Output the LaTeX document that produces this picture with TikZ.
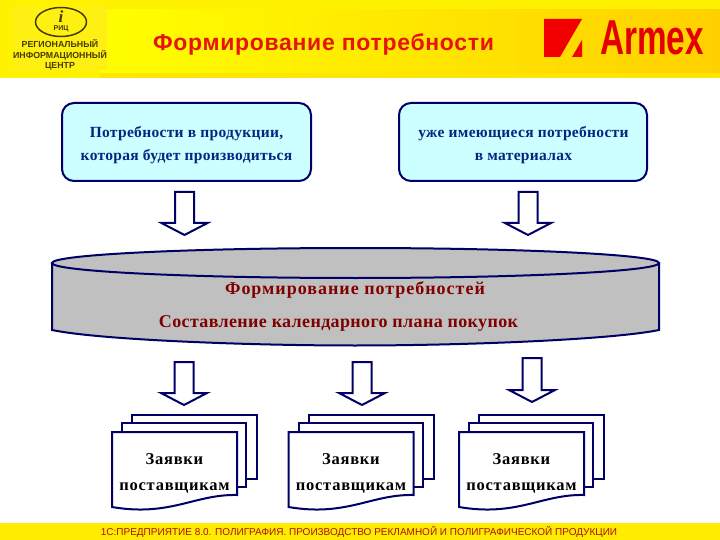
\documentclass[tikz,border=0pt]{standalone}
\usepackage{fontspec}
\setmainfont{Liberation Serif}
\setsansfont{Liberation Sans}
\usetikzlibrary{shapes.geometric}
\definecolor{navyline}{RGB}{0,0,102}
\definecolor{boxfill}{RGB}{204,255,255}
\definecolor{boxtext}{RGB}{0,40,130}
\definecolor{darkred}{RGB}{128,0,0}
\definecolor{cylfill}{RGB}{192,192,192}
\definecolor{titlered}{RGB}{230,20,10}
\definecolor{logoink}{RGB}{70,60,0}
\definecolor{logoback}{RGB}{255,240,20}
\definecolor{hdrright}{RGB}{255,208,0}
\tikzset{
  x=1pt,y=-1pt,
  needbox/.style={draw=navyline,line width=2pt,fill=boxfill,rounded corners=12pt},
  needtext/.style={font=\fontsize{15.5}{23}\selectfont\bfseries\addfontfeature{LetterSpace=2},text=boxtext,align=center,inner sep=0pt},
  blockarrow/.style={draw=navyline,line width=2pt,fill=white,line join=miter},
  cyl/.style={draw=navyline,line width=2pt,fill=cylfill},
  cyltext/.style={font=\fontsize{18}{20}\selectfont\bfseries\addfontfeature{LetterSpace=2},text=darkred,inner sep=0pt},
  sheet/.style={draw=navyline,line width=2pt,fill=white},
  doctext/.style={font=\fontsize{16.5}{26}\selectfont\bfseries\addfontfeature{LetterSpace=4.5},text=black,align=center,inner sep=0pt},
  logotext/.style={font=\sffamily\bfseries\fontsize{8.8}{10.6}\selectfont,text=logoink,align=center,inner sep=0pt},
}
\newcommand{\downblock}[3]{% centre x, top y, tip y
  \path[blockarrow] (#1-9.5,#2) -- (#1+9.5,#2) -- (#1+9.5,#3-12) -- (#1+23,#3-12) -- (#1,#3) -- (#1-23,#3-12) -- (#1-9.5,#3-12) -- (#1-9.5,#2) -- cycle;
}
\newcommand{\sheetstack}[2]{% x offset, node name
  \path[sheet] (#1+132,415) -- (#1+257,415) -- (#1+257,479) -- (#1+132,479) -- cycle;
  \path[sheet] (#1+122,423) -- (#1+246,423) -- (#1+246,487) -- (#1+122,487) -- cycle;
  \path[sheet] (#1+112,432) -- (#1+237,432) -- (#1+237,495) .. controls (#1+195,494) and (#1+170,517) .. (#1+112,507) -- cycle;
  \node[doctext] (#2) at (#1+174.5,473) {Заявки\\поставщикам};
}
\begin{document}
\begin{tikzpicture}
\useasboundingbox (0,0) rectangle (720,540);
\fill[white] (0,0) rectangle (720,540);
% header
\fill[yellow] (0,0) rectangle (720,78);
\shade[left color=yellow,right color=hdrright] (100,10) rectangle (720,73);
\fill[yellow!70!hdrright] (100,73) rectangle (720,78);
\fill[logoback] (13,6) rectangle (107,70);
% logo
\node[draw=logoink,line width=1.5pt,ellipse,minimum width=51pt,minimum height=29pt,inner sep=0pt] (logoring) at (61,22) {};
\node[font=\rmfamily\bfseries\itshape\fontsize{17}{17}\selectfont,text=logoink,inner sep=0pt] (logoi) at (61,17) {i};
\node[font=\sffamily\bfseries\fontsize{7}{7}\selectfont,text=logoink,inner sep=0pt] (logorc) at (61,29) {РИЦ};
\node[logotext] (logoname) at (60,55) {РЕГИОНАЛЬНЫЙ\\ИНФОРМАЦИОННЫЙ\\ЦЕНТР};
\node[font=\sffamily\bfseries\fontsize{23}{25}\selectfont\addfontfeature{LetterSpace=3},text=titlered,inner sep=0pt] (title) at (323.5,44.5) {Формирование потребности};
% Armex mark
\fill[red!95!black] (544,19) -- (582,19) -- (560,57) -- (544,57) -- cycle;
\fill[red!95!black] (582,40) -- (582,57) -- (572,57) -- cycle;
\draw[hdrright,line width=1pt] (563,57) -- (578,36);
\node[font=\sffamily\bfseries\fontsize{49}{49}\selectfont,text=red!90!black,inner sep=0pt,xscale=0.68] (armex) at (652,38) {Armex};
% need boxes
\node[needbox,minimum width=249pt,minimum height=78pt] (need1) at (186.5,142) {};
\node[needbox,minimum width=248pt,minimum height=78pt] (need2) at (523,142) {};
\node[needtext] (need1t) at (186.5,145) {Потребности в продукции,\\которая будет производиться};
\node[needtext] (need2t) at (523.5,145) {уже имеющиеся потребности\\в материалах};
\downblock{184.5}{192}{235}
\downblock{528}{192}{235}
% cylinder
\path[cyl] (52,263) -- (52,330) .. controls (100,340) and (250,345.5) .. (355,345.5) .. controls (460,345.5) and (610,340) .. (659,330) -- (659,263) -- cycle;
\path[cyl] (355.5,263) ellipse [x radius=303.5,y radius=15];
\node[cyltext,font=\fontsize{18}{20}\selectfont\bfseries\addfontfeature{LetterSpace=5.5}] (plan1) at (355,290) {Формирование потребностей};
\node[cyltext] (plan2) at (338.5,323) {Составление календарного плана покупок};
\downblock{184}{362}{405}
\downblock{362}{362}{405}
\downblock{532}{358}{402}
% documents
\sheetstack{0}{orders1}
\sheetstack{176.5}{orders2}
\sheetstack{347}{orders3}
% footer
\fill[yellow!95!orange] (0,523) rectangle (720,540);
\node[font=\sffamily\fontsize{10}{10}\selectfont,text=titlered!75!black,inner sep=0pt] (footer) at (359,532) {1С:ПРЕДПРИЯТИЕ 8.0. ПОЛИГРАФИЯ. ПРОИЗВОДСТВО РЕКЛАМНОЙ И ПОЛИГРАФИЧЕСКОЙ ПРОДУКЦИИ};
\end{tikzpicture}
\end{document}
